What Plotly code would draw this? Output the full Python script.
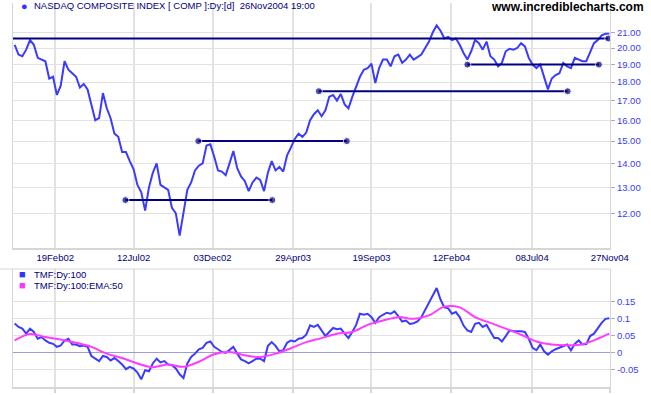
import math
import pandas as pd
import plotly.graph_objects as go

# ---------------- data ----------------
first_week = "2001-12-07"   # weekly samples (Fridays)

price = [
    20.2, 19.6, 19.5, 19.9, 20.5, 20.2, 19.4, 19.3, 19.2, 18.2,
    18.3, 17.3, 17.8, 19.2, 18.7, 18.5, 18.3, 17.7, 17.9, 17.6,
    16.7, 16.0, 16.1, 17.4, 16.6, 16.1, 15.35, 15.2, 14.5, 14.5,
    14.1, 13.75, 13.1, 12.8, 12.1, 13.0, 13.6, 14.0, 13.1, 13.0,
    12.9, 12.2, 12.0, 11.2, 12.0, 12.9, 13.2, 13.7, 13.9, 14.0,
    14.8, 14.85, 14.3, 13.7, 13.65, 13.5, 14.0, 14.55, 13.8, 13.45,
    13.25, 12.85, 13.2, 13.4, 13.3, 12.85, 13.6, 14.1, 13.7, 13.85,
    13.65, 14.35, 14.7, 15.1, 15.35, 15.2, 15.4, 16.0, 16.3, 16.5,
    16.2, 16.5, 17.2, 17.3, 17.0, 17.35, 16.8, 16.6, 17.2, 17.7,
    18.3, 18.7, 18.8, 19.05, 17.95, 18.8, 19.3, 19.3, 18.9, 19.5,
    19.6, 19.1, 19.3, 19.6, 19.3, 19.45, 19.6, 20.0, 20.4, 21.0,
    21.45, 21.1, 20.6, 20.7, 20.5, 20.6, 20.2, 19.7, 19.3, 19.8,
    20.5, 20.3, 19.9, 20.4, 19.5, 19.3, 18.9, 19.1, 19.8, 19.95,
    19.9, 20.0, 20.3, 20.1, 19.4, 19.0, 18.8, 19.0, 18.3, 17.6,
    18.2, 18.4, 18.5, 19.1, 18.9, 18.8, 19.4, 19.3, 19.2, 19.2,
    19.7, 20.3, 20.5, 20.8, 20.9, 20.9,
]

tmf = [
    0.085, 0.075, 0.07, 0.055, 0.07, 0.06, 0.04, 0.045, 0.035, 0.028,
    0.025, 0.016, 0.02, 0.035, 0.04, 0.023, 0.023, 0.018, 0.02, 0.016,
    -0.011, -0.019, -0.026, -0.011, -0.014, -0.024, -0.017, -0.026, -0.036, -0.05,
    -0.043, -0.048, -0.06, -0.08, -0.053, -0.056, -0.033, -0.019, -0.03, -0.026,
    -0.036, -0.038, -0.048, -0.065, -0.076, -0.033, -0.014, -0.004, 0.009, 0.013,
    0.028, 0.032, 0.016, 0.009, 0.001, -0.002, 0.006, 0.016, -0.004, -0.021,
    -0.026, -0.033, -0.026, -0.019, -0.019, -0.026, 0.019, 0.03, 0.019, 0.003,
    0.006, 0.028, 0.035, 0.032, 0.04, 0.042, 0.052, 0.08, 0.075, 0.081,
    0.065, 0.048, 0.06, 0.072, 0.068, 0.07, 0.055, 0.042, 0.06, 0.081,
    0.114, 0.111, 0.114, 0.104, 0.087, 0.104, 0.111, 0.117, 0.114, 0.121,
    0.107, 0.091, 0.094, 0.084, 0.086, 0.091, 0.104, 0.126, 0.148, 0.168,
    0.19, 0.156, 0.133, 0.13, 0.114, 0.119, 0.104, 0.079, 0.065, 0.06,
    0.084, 0.087, 0.075, 0.081, 0.06, 0.042, 0.042, 0.032, 0.048, 0.065,
    0.062, 0.063, 0.062, 0.06, 0.04, 0.013, 0.006, 0.023, 0.003, -0.007,
    0.003, 0.009, 0.013, 0.019, 0.023, 0.006, 0.025, 0.035, 0.023, 0.024,
    0.048, 0.055, 0.072, 0.087, 0.099, 0.101,
]

# EMA(50) of TMF, read every 4th week plus the last week
ema_every = 4
ema = [
    0.035, 0.054, 0.045, 0.038, 0.028, 0.016, -0.004, -0.017, -0.033, -0.044,
    -0.036, -0.043, -0.028, -0.006, 0.001, -0.009, -0.014, -0.004, 0.012, 0.03,
    0.042, 0.055, 0.06, 0.081, 0.094, 0.104, 0.099, 0.109, 0.135, 0.133,
    0.104, 0.087, 0.07, 0.052, 0.032, 0.023, 0.021, 0.024, 0.04, 0.055,
]

# support / resistance lines
level_values = [20.6, 19.0, 17.5, 15.0, 12.5]
level_starts = ["2001-11-20", "2004-03-12", "2003-06-15", "2002-11-07", "2002-06-27"]
level_ends = ["2004-11-24", "2004-11-07", "2004-09-11", "2003-08-05", "2003-03-22"]
level_left_dot = [False, True, True, True, True]

tick_dates = ["2002-02-19", "2002-07-12", "2002-12-03", "2003-04-29",
              "2003-09-19", "2004-02-12", "2004-07-08", "2004-11-27"]
tick_labels = ["19Feb02", "12Jul02", "03Dec02", "29Apr03",
               "19Sep03", "12Feb04", "08Jul04", "27Nov04"]
price_ticks = [12, 13, 14, 15, 16, 17, 18, 19, 20, 21]
tmf_ticks = [-0.05, 0, 0.05, 0.1, 0.15]
tmf_tick_labels = ["-0.05", "0", "0.05", "0.1", "0.15"]

# ---------------- figure ----------------
W, H = 651, 395
BLUE = "#3b3bff"
NAVY = "#000080"
MAGENTA = "#ff3cff"
GRID = "#e2e2e2"
AXL = "#d6d6d6"

dates = pd.date_range(first_week, periods=len(price), freq="7D")
ema_idx = list(range(0, len(price), ema_every)) + [len(price) - 1]
ema_dates = [dates[i] for i in ema_idx]

xd = [12.5 / W, 610 / W]
top_dom = [1 - 248 / H, 1 - 3 / H]
bot_dom = [1 - 387 / H, 1 - 269 / H]

fig = go.Figure()
fig.add_trace(go.Scatter(x=dates, y=price, mode="lines",
                         line=dict(color=BLUE, width=2), xaxis="x", yaxis="y"))
for lvl, s, e, ld in zip(level_values, level_starts, level_ends, level_left_dot):
    fig.add_trace(go.Scatter(x=[s, e], y=[lvl, lvl], mode="lines+markers",
                             line=dict(color=NAVY, width=2),
                             marker=dict(color=NAVY, size=[7 if ld else 0, 7]),
                             xaxis="x", yaxis="y"))
fig.add_trace(go.Scatter(x=dates, y=tmf, mode="lines",
                         line=dict(color=BLUE, width=2), xaxis="x2", yaxis="y2"))
fig.add_trace(go.Scatter(x=ema_dates, y=ema, mode="lines", line_shape="spline",
                         line=dict(color=MAGENTA, width=2), xaxis="x2", yaxis="y2"))

xrange = ["2001-12-03", "2004-11-27 06:00"]
fig.update_layout(
    width=W, height=H, margin=dict(l=0, r=0, t=0, b=0, autoexpand=False),
    paper_bgcolor="white", plot_bgcolor="white", showlegend=False,
    font=dict(family="Arial, Liberation Sans, sans-serif", size=10, color=NAVY),
    xaxis=dict(domain=xd, type="date", range=xrange, anchor="y", automargin=False,
               tickvals=tick_dates, ticktext=tick_labels,
               tickfont=dict(size=9.5, color=NAVY),
               showgrid=True, gridcolor=GRID, gridwidth=2,
               showline=True, linecolor=AXL, linewidth=2, ticks="", zeroline=False),
    yaxis=dict(domain=top_dom, type="log", anchor="x", side="right", automargin=False,
               range=[math.log10(10.779), math.log10(22.987)],
               tickvals=price_ticks, ticktext=["%.2f" % v for v in price_ticks],
               tickfont=dict(size=9.5, color="#3a3aff"),
               showgrid=True, gridcolor=GRID, gridwidth=1,
               showline=True, mirror=True, linecolor=AXL, linewidth=1,
               ticks="outside", ticklen=4, tickcolor="#a8a8c8", zeroline=False),
    xaxis2=dict(domain=xd, type="date", range=xrange, anchor="y2", matches="x",
                automargin=False, tickvals=tick_dates, showticklabels=False,
                showgrid=True, gridcolor=GRID, gridwidth=2,
                showline=True, linecolor=AXL, linewidth=2,
                ticks="outside", ticklen=4, tickwidth=2, tickcolor=AXL, zeroline=False),
    yaxis2=dict(domain=bot_dom, anchor="x2", side="right", range=[-0.1027, 0.2464],
                automargin=False, tickvals=tmf_ticks, ticktext=tmf_tick_labels,
                tickfont=dict(size=9.5, color="#3a3aff"),
                showgrid=True, gridcolor=GRID, gridwidth=1,
                zeroline=True, zerolinecolor="#9c9cdc", zerolinewidth=1,
                showline=True, mirror=True, linecolor=AXL, linewidth=1,
                ticks="outside", ticklen=4, tickcolor="#a8a8c8"),
)

# top border of the lower panel
fig.add_shape(type="line", xref="paper", yref="paper", x0=0, x1=xd[1],
              y0=bot_dom[1], y1=bot_dom[1], line=dict(color=AXL, width=1))
# first level line runs out to the left edge of the picture
fig.add_shape(type="line", xref="paper", yref="y", x0=0, x1=xd[0],
              y0=math.log10(level_values[0]), y1=math.log10(level_values[0]),
              line=dict(color=NAVY, width=2))

ann = []
ann.append(dict(text="●", x=24 / W, y=1 - 6 / H, xref="paper", yref="paper",
                xanchor="center", yanchor="middle", showarrow=False,
                font=dict(size=11, color="#3333ff")))
ann.append(dict(text="NASDAQ COMPOSITE INDEX [ COMP ]:Dy:[d]\u00a0\u00a026Nov2004 19:00",
                x=32 / W, y=1 - 6 / H, xref="paper", yref="paper",
                xanchor="left", yanchor="middle", showarrow=False,
                font=dict(size=9.5, color=NAVY)))
ann.append(dict(text="<b>www.incrediblecharts.com</b>", x=646 / W, y=1 - 7 / H,
                xref="paper", yref="paper", xanchor="right", yanchor="middle",
                showarrow=False, font=dict(size=12, color="black")))
ann.append(dict(text="■", x=22 / W, y=1 - 274 / H, xref="paper", yref="paper",
                xanchor="center", yanchor="middle", showarrow=False,
                font=dict(size=11, color="#3333ff")))
ann.append(dict(text="TMF:Dy:100", x=32 / W, y=1 - 274 / H, xref="paper", yref="paper",
                xanchor="left", yanchor="middle", showarrow=False,
                font=dict(size=9.5, color=NAVY)))
ann.append(dict(text="■", x=22 / W, y=1 - 285 / H, xref="paper", yref="paper",
                xanchor="center", yanchor="middle", showarrow=False,
                font=dict(size=11, color="#ff33ff")))
ann.append(dict(text="TMF:Dy:100:EMA:50", x=32 / W, y=1 - 285 / H, xref="paper",
                yref="paper", xanchor="left", yanchor="middle", showarrow=False,
                font=dict(size=9.5, color=NAVY)))
fig.update_layout(annotations=ann)

# the page body has a default 8px margin; remove it so the figure fills the window
fig.write_html("out.html", config={"displayModeBar": False},
               post_script="document.body.style.margin='0';document.body.style.overflow='hidden';")
